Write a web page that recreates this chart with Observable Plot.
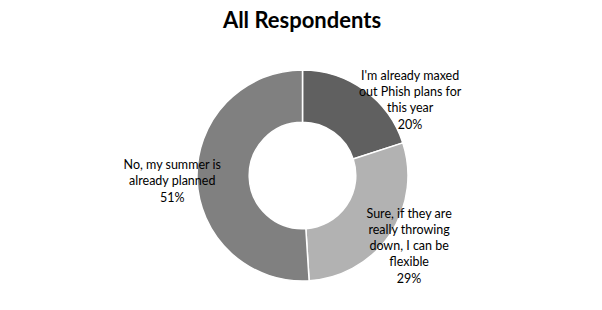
<!DOCTYPE html>
<html>
<head>
<meta charset="utf-8">
<script src="https://cdn.jsdelivr.net/npm/d3@7"></script>
<script src="https://cdn.jsdelivr.net/npm/@observablehq/plot@0.6"></script>
<style>
  html, body { margin: 0; padding: 0; background: #fff; }
  #wrap { width: 602px; height: 310px; position: relative; overflow: hidden; }
  #title { height: 40px; line-height: 40px; text-align: center; font-family: Lato, "Open Sans", sans-serif; font-weight: bold; font-size: 22px; color: #000; padding-left: 2px; }
</style>
</head>
<body>
<div id="wrap">
  <div id="title">All Respondents</div>
  <div id="chart"></div>
</div>
<script>
// ---- data ----
const categories = [
  "I'm already maxed out Phish plans for this year",
  "Sure, if they are really throwing down, I can be flexible",
  "No, my summer is already planned"
];
const labelLines = [
  "I'm already maxed\nout Phish plans for\nthis year",
  "Sure, if they are\nreally throwing\ndown, I can be\nflexible",
  "No, my summer is\nalready planned"
];
const percents = [20, 29, 51];
const colors = ["#606060", "#b2b2b2", "#808080"];

// ---- layout ----
const W = 602, H = 270;
const R = 105.5;          // outer radius in px
const cxPx = 302.5, cyPx = 135.5;
const innerRatio = 0.505;
// label placement tweaks (radius in R units, angle offset in radians)
const labelRadius = [1.25, 1.20, 1.24];
const labelAngleShift = [0.32, -0.02, 0];

const data = categories.map((c, i) => ({category: c, value: percents[i], color: colors[i], text: labelLines[i] + "\n" + percents[i] + "%"}));
const arcs = d3.pie().sort(null).value(d => d.value)(data);
arcs.forEach((a, i) => {
  const mid = (a.startAngle + a.endAngle) / 2 + labelAngleShift[i];
  a.data.lx = labelRadius[i] * Math.sin(mid);
  a.data.ly = labelRadius[i] * Math.cos(mid);
});

const xDomain = [-cxPx / R, (W - cxPx) / R];
const yDomain = [-(H - cyPx) / R, cyPx / R];

const donut = (index, scales) => {
  const x0 = scales.x(0), y0 = scales.y(0);
  const rPx = Math.abs(scales.x(1) - scales.x(0));
  const arcGen = d3.arc().innerRadius(rPx * innerRatio).outerRadius(rPx);
  const g = d3.create("svg:g").attr("transform", `translate(${x0},${y0})`);
  g.selectAll("path").data(arcs).join("path")
    .attr("d", arcGen)
    .attr("fill", d => d.data.color)
    .attr("stroke", "#fff")
    .attr("stroke-width", 1.5);
  return g.node();
};

const chart = Plot.plot({
  width: W,
  height: H,
  margin: 0,
  x: {domain: xDomain, axis: null},
  y: {domain: yDomain, axis: null},
  style: {background: "#fff", fontFamily: "Lato, 'Open Sans', sans-serif"},
  marks: [
    donut,
    Plot.text(data, {
      x: "lx", y: "ly", text: "text",
      fontSize: 12.5, lineHeight: 1.3, fill: "#000",
      textAnchor: "middle"
    })
  ]
});
document.getElementById("chart").appendChild(chart);
</script>
</body>
</html>
